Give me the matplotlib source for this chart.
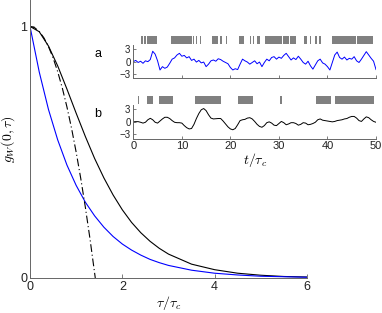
import matplotlib
matplotlib.use('Agg')
import matplotlib.pyplot as plt
import numpy as np

plt.rcParams['font.family'] = ['Liberation Sans', 'DejaVu Sans']
plt.rcParams['mathtext.fontset'] = 'cm'

# main panel: correlation functions
tau = [0, 0.2, 0.4, 0.6, 0.8, 1.0, 1.2, 1.4, 1.6, 1.8, 2.0, 2.2, 2.4, 2.6, 2.8, 3.0,
       3.5, 4.0, 4.5, 5.0, 5.5, 6.0]
g_black = [1.0, 0.979, 0.922, 0.843, 0.751, 0.655, 0.562, 0.475, 0.398, 0.33, 0.271,
           0.221, 0.18, 0.146, 0.118, 0.095, 0.055, 0.033, 0.019, 0.011, 0.006, 0.004]
g_blue = [1.0, 0.819, 0.67, 0.549, 0.449, 0.368, 0.301, 0.247, 0.202, 0.165, 0.135,
          0.111, 0.091, 0.074, 0.061, 0.05, 0.031, 0.019, 0.012, 0.007, 0.005, 0.003]
tau_short = [0, 0.1, 0.2, 0.3, 0.4, 0.5, 0.6, 0.7, 0.8, 0.9, 1.0, 1.1, 1.2, 1.3, 1.414]
g_short = [1.0, 0.995, 0.98, 0.955, 0.92, 0.875, 0.82, 0.755, 0.68, 0.595, 0.5, 0.395,
           0.28, 0.155, 0.0]

# inset a: noisy trace
t_a = np.arange(0, 50.01, 0.5)
v_a = [0.0, 0.3, -0.2, 0.1, -0.4, 0.2, 0.0, 0.5, 2.5, 1.8,
       0.2, -2.0, -1.2, -1.6, -1.3, -0.4, 0.6, 0.9, 1.6, 2.0,
       1.3, 1.5, 0.9, 1.2, 0.3, 0.6, -0.1, 0.3, -0.3, -0.1,
       -1.2, -0.6, 0.2, 0.4, 0.1, 0.7, 0.5, 0.1, -0.2, -0.5,
       -1.4, -2.0, -1.7, -1.9, -0.6, 0.6, 0.2, -0.1, -0.6, -0.2,
       0.2, -0.5, -0.1, -1.2, -0.2, 0.6, 0.2, 1.0, 1.2, 0.6,
       1.1, 0.8, 1.5, 2.0, 1.2, 0.4, 0.9, 0.5, 1.3, 0.6,
       -0.2, -0.6, 0.1, -1.0, -1.8, -0.8, 0.2, 0.6, -0.3, -0.6,
       -1.2, -2.0, -0.2, 1.6, 2.3, 1.0, 0.6, 1.1, 0.4, 0.8,
       0.6, 1.2, 0.2, -0.2, 0.6, 1.5, 2.4, 1.6, 0.8, 0.1,
       -1.9]
bars_a = [(1.5, 0.4), (2.2, 0.35), (2.75, 2.05), (7.8, 4.2), (12.25, 0.25), (12.9, 0.3),
          (13.75, 0.2), (16.3, 0.5), (16.9, 0.6), (17.9, 0.3), (19.1, 0.3), (21.8, 1.0),
          (24.0, 0.15), (24.6, 0.3), (25.4, 0.6), (27.2, 3.4), (30.8, 1.2), (32.2, 1.4),
          (35.2, 0.6), (36.4, 0.3), (37.4, 0.4), (38.3, 0.3), (40.9, 2.2), (43.3, 2.6),
          (46.1, 3.3)]

# inset b: smooth trace
t_b = np.arange(0, 50.01, 0.5)
v_b = [0.0, 0.05, 0.05, -0.1, -0.3, -0.1, 0.5, 0.85, 0.5, -0.1,
       -0.3, 0.2, 0.7, 1.1, 1.1, 0.8, 0.3, -0.1, -0.2, -0.2,
       -0.3, -0.9, -1.4, -1.7, -1.6, -0.6, 0.8, 2.0, 2.9, 3.2,
       2.7, 1.7, 0.9, 0.7, 0.75, 0.8, 0.8, 0.2, -0.5, -1.2,
       -1.7, -1.9, -1.6, -0.7, 0.3, 0.5, 0.6, 0.9, 1.0, 0.7,
       0.1, -0.6, -1.1, -1.3, -0.9, -0.2, 0.0, -0.3, -0.8, -0.9,
       -0.4, 0.1, -0.2, -0.7, -0.5, -0.2, -0.2, -0.4, -0.8, -0.6,
       -0.2, -0.3, -0.7, -0.6, -0.4, -0.1, 0.5, 0.7, 0.4, 0.3,
       0.2, 0.1, 0.0, 0.1, 0.3, 0.4, 0.5, 0.7, 0.8, 1.1,
       1.3, 1.3, 0.9, 0.3, 0.1, 0.7, 1.2, 1.0, 0.5, 0.1,
       -0.1]
bars_b = [(1.0, 0.25), (2.75, 1.4), (5.35, 2.75), (12.8, 5.3), (21.6, 3.1),
          (30.2, 0.4), (37.6, 3.1), (41.5, 8.1)]

spine_col = '#666666'
bar_col = '#808080'

fig = plt.figure(figsize=(3.82, 3.13), dpi=100)

def style(ax, size, ticklen):
    for s in ['top', 'right']:
        ax.spines[s].set_visible(False)
    for s in ['left', 'bottom']:
        ax.spines[s].set_color(spine_col)
        ax.spines[s].set_linewidth(0.7)
    ax.tick_params(direction='in', length=ticklen, width=0.6, color=spine_col,
                   labelsize=size, labelcolor='#222222', pad=2)

# main axes
ax = fig.add_axes([30 / 382, 35 / 313, 277 / 382, 278 / 313])
ax.plot(tau, g_black, color='black', lw=0.8)
ax.plot(tau, g_blue, color='#0000ff', lw=0.8)
ax.plot(tau_short, g_short, color='black', lw=0.8, linestyle=(0, (7, 2.5, 1, 2.5)))
ax.set_xlim(0, 6)
ax.set_ylim(0, 1.105)
ax.set_xticks([0, 2, 4, 6])
ax.set_yticks([0, 1])
style(ax, 9, 3)
ax.set_xlabel(r'$\tau/\tau_c$', fontsize=10, labelpad=1)
ax.set_ylabel(r'$g_W(0,\tau)$', fontsize=10, labelpad=2)

# inset a
axa = fig.add_axes([133.3 / 382, (313 - 78.3) / 313, 242.7 / 382, 33.3 / 313])
axa.plot(t_a, v_a, color='#0000ff', lw=0.7)
axa.broken_barh(bars_a, (4.2, 2.0), facecolors=bar_col, clip_on=False)
axa.set_xlim(0, 50)
axa.set_ylim(-4, 4)
axa.set_xticks([0, 10, 20, 30, 40, 50])
axa.set_xticklabels([])
axa.set_yticks([-3, 0, 3])
style(axa, 7, 2)
fig.text(98 / 382, 1 - 54 / 313, 'a', fontsize=9, ha='center', va='center')

# inset b
axb = fig.add_axes([133.3 / 382, (313 - 138.5) / 313, 242.7 / 382, 33.3 / 313])
axb.plot(t_b, v_b, color='black', lw=0.7)
axb.broken_barh(bars_b, (4.2, 2.0), facecolors=bar_col, clip_on=False)
axb.set_xlim(0, 50)
axb.set_ylim(-4, 4)
axb.set_xticks([0, 10, 20, 30, 40, 50])
axb.set_yticks([-3, 0, 3])
style(axb, 7, 2)
axb.tick_params(axis='x', labelsize=8)
axb.set_xlabel(r'$t/\tau_c$', fontsize=10, labelpad=0)
fig.text(98 / 382, 1 - 114 / 313, 'b', fontsize=9, ha='center', va='center')

fig.savefig('out.png', dpi=100)
